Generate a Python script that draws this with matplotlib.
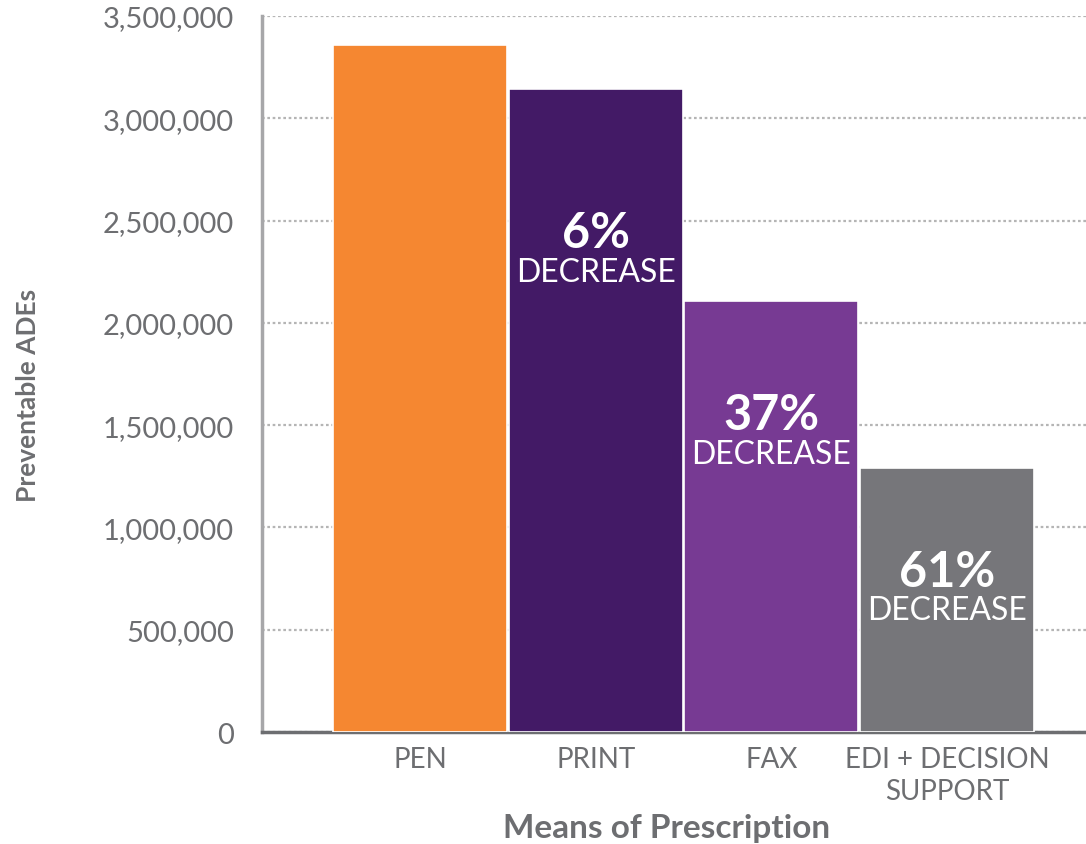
import numpy as np
import matplotlib
matplotlib.use("Agg")
import matplotlib.pyplot as plt
from matplotlib.ticker import FuncFormatter

plt.rcParams['font.family'] = ['Lato', 'DejaVu Sans']

# preventable adverse drug events by means of prescription
categories = ['PEN', 'PRINT', 'FAX', 'EDI + DECISION\nSUPPORT']
ades = [3358000, 3143000, 2107000, 1290000]
pct_labels = ['', '6%', '37%', '61%']
bar_colors = ['#f58731', '#431a66', '#773a93', '#76767a']
label_y = [0, 2440000, 1550000, 787000]

fig = plt.figure(figsize=(10.86, 8.45), dpi=100)
ax = fig.add_axes([0.241, 0.1325, 0.759, 0.8475])

x = np.arange(len(categories))
ax.bar(x, ades, width=0.99, color=bar_colors, edgecolor='white', linewidth=1.2, zorder=3)

for xi, pct, ly in zip(x, pct_labels, label_y):
    if not pct:
        continue
    ax.text(xi, ly, pct, ha='center', va='center', color='white',
            fontsize=35, fontweight='bold', zorder=4)
    ax.text(xi, ly - 190000, 'DECREASE', ha='center', va='center', color='white',
            fontsize=23, zorder=4)

ax.set_xlim(-0.90, 3.79)
ax.set_ylim(0, 3500000)
ax.set_yticks(np.arange(0, 3500001, 500000))
ax.yaxis.set_major_formatter(FuncFormatter(lambda v, p: f'{int(v):,}'))
ax.set_xticks(x)
ax.set_xticklabels(categories, linespacing=1.3)

ax.grid(axis='y', color='#b5b5b5', linestyle=(0, (1.2, 1.2)), linewidth=1.6, zorder=0)
ax.tick_params(axis='y', length=0, colors='#6d6e71', labelsize=21, pad=20)
ax.tick_params(axis='x', length=0, colors='#6d6e71', labelsize=20, pad=10)

for s in ['top', 'right']:
    ax.spines[s].set_visible(False)
ax.spines['left'].set_color('#a7a7a9')
ax.spines['left'].set_linewidth(2.5)
ax.spines['bottom'].set_color('#6d6e71')
ax.spines['bottom'].set_linewidth(2.5)

ax.set_ylabel('Preventable ADEs', fontsize=19, fontweight='bold', color='#6d6e71',
              va='center')
ax.yaxis.set_label_coords(-0.284, 0.472)
ax.set_xlabel('Means of Prescription', fontsize=24, fontweight='bold', color='#6d6e71',
              va='center')
ax.xaxis.set_label_coords(0.4915, -0.1327)

fig.savefig('out.png', dpi=100)
